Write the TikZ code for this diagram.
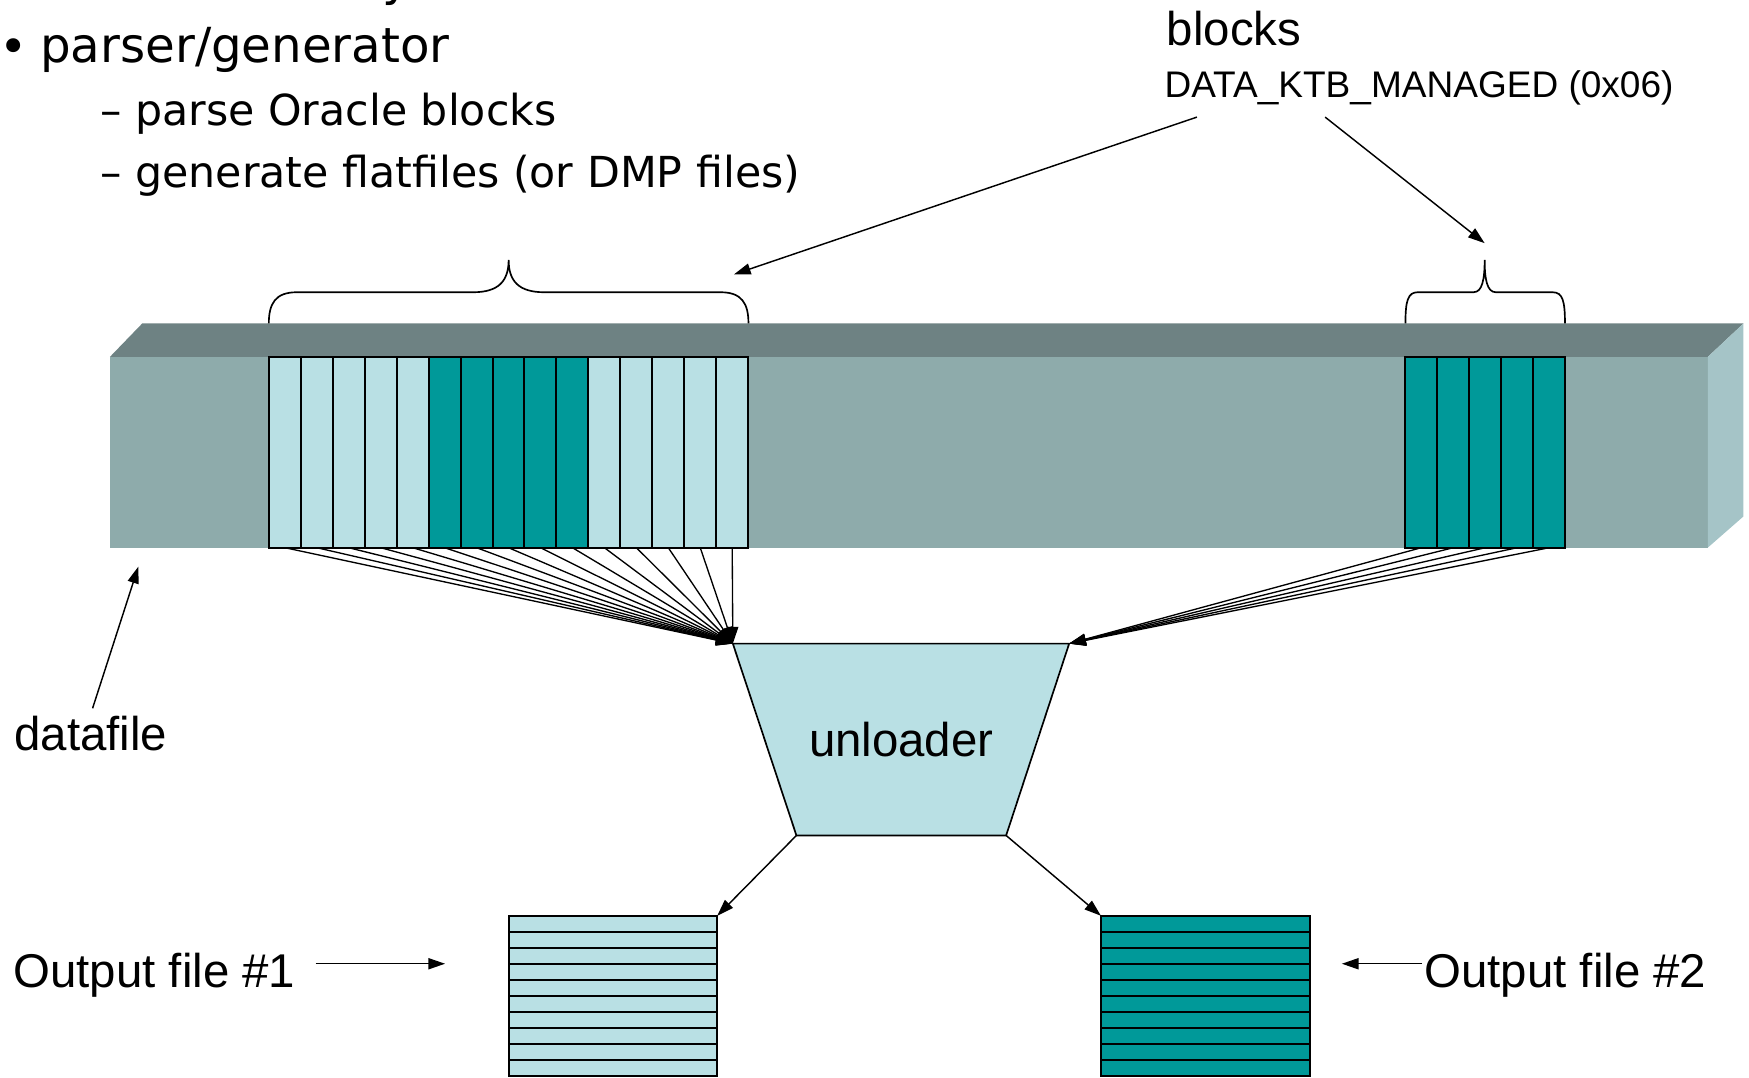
\documentclass[tikz,border=0pt]{standalone}
\usepackage{fontspec}
\usetikzlibrary{arrows.meta}
\newfontfamily\arialf{Liberation Sans}
\newfontfamily\verdf{DejaVu Sans}
\definecolor{barfront}{RGB}{142,171,171}
\definecolor{bartop}{RGB}{110,130,131}
\definecolor{barside}{RGB}{165,196,199}
\definecolor{lightblk}{RGB}{185,224,228}
\definecolor{darkblk}{RGB}{0,153,153}
\begin{document}
\begin{tikzpicture}[x=1pt,y=-1pt,
  lbl/.style={inner sep=0pt, outer sep=0pt, anchor=base west, font=\arialf\fontsize{42.5}{42.5}\selectfont},
  smalllbl/.style={inner sep=0pt, outer sep=0pt, anchor=base west, font=\arialf\fontsize{33.2}{33.2}\selectfont},
  toptxt/.style={inner sep=0pt, outer sep=0pt, anchor=base west, font=\verdf\fontsize{43.3}{43.3}\selectfont},
  subtxt/.style={inner sep=0pt, outer sep=0pt, anchor=base west, font=\verdf\fontsize{38.3}{38.3}\selectfont},
  blk/.style={draw, line width=1.8pt, minimum width=28.65pt, minimum height=171pt, inner sep=0pt, outer sep=0pt},
  rowbox/.style={draw, line width=1.8pt, minimum width=187pt, minimum height=14.4pt, inner sep=0pt, outer sep=0pt},
  fan/.style={line width=1.2pt, -{Triangle[length=15pt,width=10pt]}},
  arr/.style={line width=1.3pt, -{Triangle[length=15pt,width=10pt]}},
  brace/.style={line width=1.5pt}
]
\useasboundingbox (0,0) rectangle (1568,966);

% cut-off line above
\node[toptxt] (ytail) at (343,-4) {y};

% text top-left
\node[inner sep=0pt, outer sep=0pt, font=\verdf\fontsize{43}{43}\selectfont] (bul) at (12,46) {•};
\node[toptxt] (t1) at (36,56) {parser/generator};
\node[subtxt] (t2) at (90,112.5) {– parse Oracle blocks};
\node[subtxt] (t3) at (90,168) {– generate flatfiles (or DMP files)};

% blocks label
\node[lbl] (blk) at (1046,41) {blocks};
\node[smalllbl] (ktb) at (1044,87) {DATA\_KTB\_MANAGED (0x06)};

% datafile bar
\fill[barfront] (98.5,320) rectangle (1531,491);
\fill[bartop] (98.5,320) -- (127.5,290) -- (1563,290) -- (1531,320) -- cycle;
\fill[barside] (1531,320) -- (1563,290) -- (1563,463) -- (1531,491) -- cycle;

% blocks in the datafile
\foreach \i in {1,...,15}{
  \ifnum\i>5 \ifnum\i<11 \def\bc{darkblk}\else\def\bc{lightblk}\fi\else\def\bc{lightblk}\fi
  \node[blk, fill=\bc] (L\i) at ({241+28.65*(\i-0.5)},405.5) {};
}
\foreach \i in {1,...,5}{
  \node[blk, fill=darkblk] (R\i) at ({1260+28.65*(\i-0.5)},405.5) {};
}

% braces
\draw[brace] (241,290) .. controls (241,272) and (247,262) .. (266,262) -- (424,262)
  .. controls (447,262) and (456,252) .. (456,233)
  .. controls (456,252) and (465,262) .. (488,262) -- (646,262)
  .. controls (665,262) and (671,272) .. (671,290);
\draw[brace] (1260,290) .. controls (1260,270) and (1262,262) .. (1271,262) -- (1321,262)
  .. controls (1329,262) and (1331,250) .. (1331,233)
  .. controls (1331,250) and (1333,262) .. (1341,262) -- (1392,262)
  .. controls (1401,262) and (1403,270) .. (1403,290);

% unloader
\coordinate (utl) at (657,577);
\coordinate (utr) at (958.5,577);
\coordinate (ubr) at (902,749);
\coordinate (ubl) at (714,749);
\draw[line width=1.5pt, fill=lightblk] (utl) -- (utr) -- (ubr) -- (ubl) -- cycle;
\node[lbl, anchor=base] (unl) at (808,678) {unloader};

\foreach \i in {1,...,15}{ \draw[fan] (L\i.south) -- (utl); }
\foreach \i in {1,...,5}{ \draw[fan] (R\i.south) -- (utr); }

% output files
\node[inner sep=0pt, outer sep=0pt, minimum width=187pt, minimum height=144pt] (out1) at (549.5,893) {};
\node[inner sep=0pt, outer sep=0pt, minimum width=187pt, minimum height=144pt] (out2) at (1080.5,893) {};
\foreach \r in {0,...,9}{
  \node[rowbox, fill=lightblk] (A\r) at (549.5,{821+14.4*(\r+0.5)}) {};
  \node[rowbox, fill=darkblk] (B\r) at (1080.5,{821+14.4*(\r+0.5)}) {};
}
\draw[arr] (ubl) -- (out1.north east);
\draw[arr] (ubr) -- (out2.north west);

% labels with arrows
\node[lbl] (df) at (13,673) {datafile};
\coordinate (dfA) at (83,635);
\coordinate (dfB) at (124,508);
\draw[arr] (dfA) -- (dfB);

\node[lbl] (of1) at (12,885) {Output file \#1};
\coordinate (of1A) at (283,864);
\coordinate (of1B) at (399,864);
\draw[arr] (of1A) -- (of1B);

\node[lbl] (of2) at (1277,885) {Output file \#2};
\coordinate (of2A) at (1275,864);
\coordinate (of2B) at (1203,864);
\draw[arr] (of2A) -- (of2B);

\coordinate (bk1A) at (1073,105);
\coordinate (bk1B) at (658,246);
\coordinate (bk2A) at (1188,105);
\coordinate (bk2B) at (1331,218);
\draw[arr] (bk1A) -- (bk1B);
\draw[arr] (bk2A) -- (bk2B);
\end{tikzpicture}
\end{document}
